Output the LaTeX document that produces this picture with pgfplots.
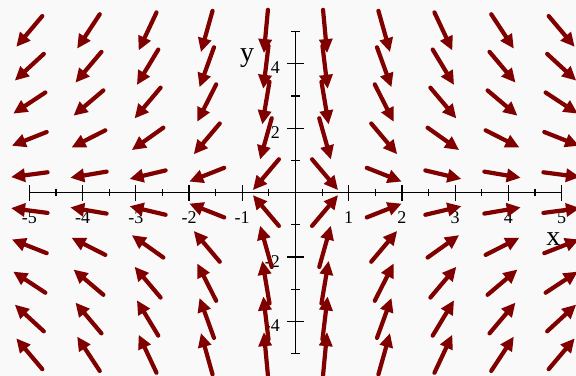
\documentclass[border=0pt]{standalone}
\usepackage{fontspec}
\setmainfont{Liberation Serif}
\usepackage{pgfplots}
\pgfplotsset{compat=1.18}
\usepackage{pgfplotstable}
\usetikzlibrary{arrows.meta}

\definecolor{fieldred}{HTML}{800000}
\definecolor{paper}{HTML}{F9F9F9}

% direction field: grid point (x,y) and arrow components (u,v), arrows centred on the grid point
\pgfplotstableread{
x y u v
-5 -5 -0.488 0.955
-5 -3.8889 -0.545 0.829
-5 -2.7778 -0.603 0.656
-5 -1.6667 -0.655 0.427
-5 -0.5556 -0.686 0.149
-5 0.5556 -0.686 -0.149
-5 1.6667 -0.655 -0.427
-5 2.7778 -0.603 -0.656
-5 3.8889 -0.545 -0.829
-5 5 -0.488 -0.955
-3.8889 -5 -0.424 1.066
-3.8889 -3.8889 -0.488 0.955
-3.8889 -2.7778 -0.561 0.785
-3.8889 -1.6667 -0.634 0.532
-3.8889 -0.5556 -0.683 0.191
-3.8889 0.5556 -0.683 -0.191
-3.8889 1.6667 -0.634 -0.532
-3.8889 2.7778 -0.561 -0.785
-3.8889 3.8889 -0.488 -0.955
-3.8889 5 -0.424 -1.066
-2.7778 -5 -0.335 1.180
-2.7778 -3.8889 -0.401 1.098
-2.7778 -2.7778 -0.488 0.955
-2.7778 -1.6667 -0.592 0.695
-2.7778 -0.5556 -0.677 0.265
-2.7778 0.5556 -0.677 -0.265
-2.7778 1.6667 -0.592 -0.695
-2.7778 2.7778 -0.488 -0.955
-2.7778 3.8889 -0.401 -1.098
-2.7778 5 -0.335 -1.180
-1.6667 -5 -0.218 1.281
-1.6667 -3.8889 -0.272 1.241
-1.6667 -2.7778 -0.355 1.158
-1.6667 -1.6667 -0.488 0.955
-1.6667 -0.5556 -0.655 0.427
-1.6667 0.5556 -0.655 -0.427
-1.6667 1.6667 -0.488 -0.955
-1.6667 2.7778 -0.355 -1.158
-1.6667 3.8889 -0.272 -1.241
-1.6667 5 -0.218 -1.281
-0.5556 -5 -0.076 1.342
-0.5556 -3.8889 -0.098 1.336
-0.5556 -2.7778 -0.135 1.324
-0.5556 -1.6667 -0.218 1.281
-0.5556 -0.5556 -0.488 0.955
-0.5556 0.5556 -0.488 -0.955
-0.5556 1.6667 -0.218 -1.281
-0.5556 2.7778 -0.135 -1.324
-0.5556 3.8889 -0.098 -1.336
-0.5556 5 -0.076 -1.342
0.5556 -5 0.076 1.342
0.5556 -3.8889 0.098 1.336
0.5556 -2.7778 0.135 1.324
0.5556 -1.6667 0.218 1.281
0.5556 -0.5556 0.488 0.955
0.5556 0.5556 0.488 -0.955
0.5556 1.6667 0.218 -1.281
0.5556 2.7778 0.135 -1.324
0.5556 3.8889 0.098 -1.336
0.5556 5 0.076 -1.342
1.6667 -5 0.218 1.281
1.6667 -3.8889 0.272 1.241
1.6667 -2.7778 0.355 1.158
1.6667 -1.6667 0.488 0.955
1.6667 -0.5556 0.655 0.427
1.6667 0.5556 0.655 -0.427
1.6667 1.6667 0.488 -0.955
1.6667 2.7778 0.355 -1.158
1.6667 3.8889 0.272 -1.241
1.6667 5 0.218 -1.281
2.7778 -5 0.335 1.180
2.7778 -3.8889 0.401 1.098
2.7778 -2.7778 0.488 0.955
2.7778 -1.6667 0.592 0.695
2.7778 -0.5556 0.677 0.265
2.7778 0.5556 0.677 -0.265
2.7778 1.6667 0.592 -0.695
2.7778 2.7778 0.488 -0.955
2.7778 3.8889 0.401 -1.098
2.7778 5 0.335 -1.180
3.8889 -5 0.424 1.066
3.8889 -3.8889 0.488 0.955
3.8889 -2.7778 0.561 0.785
3.8889 -1.6667 0.634 0.532
3.8889 -0.5556 0.683 0.191
3.8889 0.5556 0.683 -0.191
3.8889 1.6667 0.634 -0.532
3.8889 2.7778 0.561 -0.785
3.8889 3.8889 0.488 -0.955
3.8889 5 0.424 -1.066
5 -5 0.488 0.955
5 -3.8889 0.545 0.829
5 -2.7778 0.603 0.656
5 -1.6667 0.655 0.427
5 -0.5556 0.686 0.149
5 0.5556 0.686 -0.149
5 1.6667 0.655 -0.427
5 2.7778 0.603 -0.656
5 3.8889 0.545 -0.829
5 5 0.488 -0.955
}\fieldtable

\begin{document}
\begin{tikzpicture}
\fill[paper] (0,0) rectangle (576bp,376bp);
\begin{axis}[
  at={(0,0)}, anchor=south west,
  scale only axis, width=576bp, height=376bp,
  xmin=-5.550, xmax=5.269, ymin=-5.690, ymax=5.976,
  hide axis, clip=true,
]
% axes through the origin
\draw[black, line width=1.2bp] (axis cs:-5,0) -- (axis cs:5,0);
\draw[black, line width=1.2bp] (axis cs:0,-5) -- (axis cs:0,5);
% x ticks: long at integers, short at halves
\pgfplotsinvokeforeach{-5,-4,-3,-2,-1,1,2,3,4,5}{
  \draw[black, line width=1.2bp] (axis cs:#1,-0.25) -- (axis cs:#1,0.25);
  \node[anchor=base, inner sep=0pt, font=\fontsize{18bp}{20bp}\selectfont] at (axis cs:#1,-0.974) {#1};
}
\pgfplotsinvokeforeach{-4.5,-3.5,-2.5,-1.5,-0.5,0.5,1.5,2.5,3.5,4.5}{
  \draw[black, line width=1.2bp] (axis cs:#1,-0.11) -- (axis cs:#1,0.11);
}
% y ticks: long at even values, short at odd values
\pgfplotsinvokeforeach{-4,-2,2,4}{
  \draw[black, line width=1.2bp] (axis cs:-0.155,#1) -- (axis cs:0.155,#1);
  \node[anchor=base east, inner sep=0pt, font=\fontsize{18bp}{20bp}\selectfont] at (axis cs:-0.29,#1-0.31) {#1};
}
\pgfplotsinvokeforeach{-5,-3,-1,1,3,5}{
  \draw[black, line width=1.2bp] (axis cs:-0.078,#1) -- (axis cs:0.078,#1);
}
% axis names
\node[anchor=base, inner sep=0pt, font=\fontsize{28bp}{30bp}\selectfont] at (axis cs:4.842,-1.626) {x};
\node[anchor=base, inner sep=0pt, font=\fontsize{28bp}{30bp}\selectfont] at (axis cs:-0.909,4.083) {y};
% the field arrows
\addplot[
  fieldred, line width=4.2bp, line cap=round, mark=none,
  -{Triangle[length=14bp, width=13bp]},
  quiver={u=\thisrow{u}, v=\thisrow{v}},
] table[x expr=\thisrow{x}-0.5*\thisrow{u}, y expr=\thisrow{y}-0.5*\thisrow{v}] {\fieldtable};
\end{axis}
\end{tikzpicture}
\end{document}
